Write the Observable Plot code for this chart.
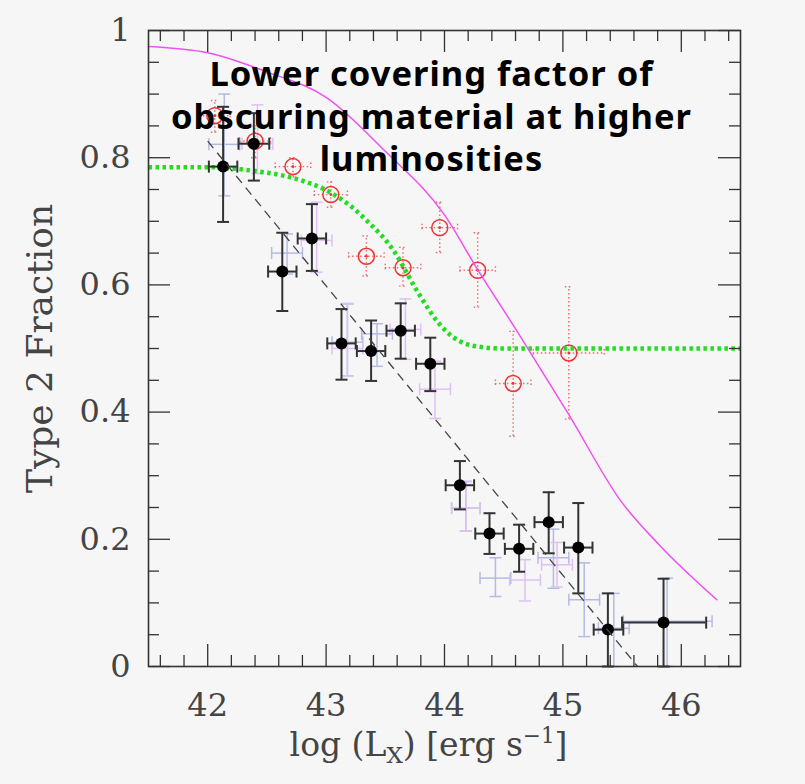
<!DOCTYPE html>
<html><head><meta charset="utf-8">
<script src="https://cdn.jsdelivr.net/npm/d3@7"></script>
<script src="https://cdn.jsdelivr.net/npm/@observablehq/plot@0.6"></script>
<style>html,body{margin:0;padding:0;background:#f6f6f6;}</style>
</head><body><div id="chart"></div>
<script>
// ---- Black points (filled dots) ----
const blackX   = [42.13, 42.39, 42.63, 42.88, 43.13, 43.38, 43.63, 43.88, 44.13, 44.38, 44.63, 44.88, 45.13, 45.38, 45.85];
const blackY   = [0.786, 0.822, 0.621, 0.673, 0.508, 0.496, 0.528, 0.476, 0.285, 0.209, 0.185, 0.227, 0.187, 0.058, 0.069];
const blackYlo = [0.699, 0.764, 0.559, 0.622, 0.451, 0.449, 0.484, 0.433, 0.247, 0.177, 0.149, 0.178, 0.115, 0.0, 0.0];
const blackYhi = [0.880, 0.870, 0.682, 0.727, 0.562, 0.544, 0.571, 0.517, 0.323, 0.241, 0.223, 0.274, 0.257, 0.115, 0.138];
const blackXlo = [42.01, 42.26, 42.51, 42.76, 43.01, 43.26, 43.51, 43.76, 44.01, 44.26, 44.51, 44.76, 45.01, 45.26, 45.50];
const blackXhi = [42.25, 42.52, 42.75, 43.00, 43.25, 43.50, 43.75, 44.00, 44.25, 44.50, 44.75, 45.00, 45.25, 45.51, 46.21];

// ---- Faint blue crosses ----
const blueX   = [42.14, 42.67, 43.18, 43.43, 44.18, 44.43, 44.92, 45.18, 45.43, 45.88];
const blueY   = [0.821, 0.650, 0.510, 0.523, 0.249, 0.139, 0.171, 0.105, 0.060, 0.071];
const blueYlo = [0.740, 0.617, 0.457, 0.472, 0.213, 0.110, 0.123, 0.047, 0.000, 0.000];
const blueYhi = [0.900, 0.680, 0.570, 0.539, 0.291, 0.171, 0.216, 0.163, 0.115, 0.139];
const blueXlo = [42.01, 42.54, 43.05, 43.30, 44.06, 44.30, 44.79, 45.05, 45.30, 45.51];
const blueXhi = [42.27, 42.80, 43.31, 43.56, 44.30, 44.56, 45.05, 45.31, 45.56, 46.26];

// ---- Faint violet crosses ----
const violetX   = [42.42, 42.92, 43.18, 43.67, 43.92, 44.18, 44.68, 44.95];
const violetY   = [0.822, 0.670, 0.500, 0.530, 0.436, 0.249, 0.136, 0.160];
const violetYlo = [0.775, 0.620, 0.457, 0.483, 0.390, 0.213, 0.103, 0.125];
const violetYhi = [0.883, 0.730, 0.571, 0.578, 0.480, 0.291, 0.168, 0.195];
const violetXlo = [42.29, 42.79, 43.05, 43.54, 43.79, 44.06, 44.55, 44.82];
const violetXhi = [42.55, 43.05, 43.31, 43.80, 44.05, 44.30, 44.81, 45.08];

// ---- Red open circles (dotted error bars) ----
const redX   = [42.06, 42.40, 42.72, 43.04, 43.34, 43.65, 43.96, 44.28, 44.58, 45.05];
const redY   = [0.866, 0.826, 0.786, 0.742, 0.645, 0.627, 0.690, 0.623, 0.445, 0.493];
const redYlo = [0.840, 0.800, 0.770, 0.722, 0.614, 0.598, 0.651, 0.565, 0.362, 0.389];
const redYhi = [0.890, 0.850, 0.800, 0.762, 0.677, 0.659, 0.730, 0.682, 0.527, 0.597];
const redXlo = [41.93, 42.27, 42.57, 42.90, 43.19, 43.50, 43.81, 44.13, 44.43, 44.75];
const redXhi = [42.19, 42.53, 42.87, 43.18, 43.49, 43.80, 44.11, 44.43, 44.73, 45.35];

// ---- Curves ----
const greenX = [41.5, 42.0, 42.36, 42.76, 43.01, 43.2, 43.35, 43.57, 43.77, 43.95, 44.08, 44.25, 44.5, 46.5];
const greenY = [0.785, 0.785, 0.780, 0.766, 0.748, 0.725, 0.700, 0.654, 0.590, 0.540, 0.517, 0.504, 0.500, 0.500];
const magentaX = [41.5, 42.0, 42.5, 43.0, 43.5, 44.0, 44.28, 44.61, 45.05, 45.49, 45.82, 46.3];
const magentaY = [0.975, 0.965, 0.935, 0.895, 0.810, 0.710, 0.624, 0.528, 0.396, 0.260, 0.190, 0.105];
const dashX = [42.0, 45.63];
const dashY = [0.826, 0.0];

// ---- Ticks and text ----
const xMajorTicks = [42, 43, 44, 45, 46];
const xMinorTicks = [41.6, 41.8, 42.2, 42.4, 42.6, 42.8, 43.2, 43.4, 43.6, 43.8, 44.2, 44.4, 44.6, 44.8, 45.2, 45.4, 45.6, 45.8, 46.2, 46.4];
const yMajorTicks = [0, 0.2, 0.4, 0.6, 0.8, 1];
const yMinorTicks = [0.05, 0.1, 0.15, 0.25, 0.3, 0.35, 0.45, 0.5, 0.55, 0.65, 0.7, 0.75, 0.85, 0.9, 0.95];
const yLabel = "Type 2 Fraction";
const xLabelParts = ["log (L", "X", ") [erg s", "\u22121", "]"];
const annotationLines = ["Lower covering factor of", "obscuring material at higher", "luminosities"];

const W = 805, H = 784, mL = 148, mR = 65, mT = 30, mB = 118;
const plotW = W - mL - mR, plotH = H - mT - mB;
const serif = "'DejaVu Serif', 'Liberation Serif', serif";

function rows(xs, ys, ylo, yhi, xlo, xhi) {
  return xs.map((x, i) => ({x, y: ys[i], ylo: ylo[i], yhi: yhi[i], xlo: xlo[i], xhi: xhi[i]}));
}
const black = rows(blackX, blackY, blackYlo, blackYhi, blackXlo, blackXhi);
const blue = rows(blueX, blueY, blueYlo, blueYhi, blueXlo, blueXhi);
const violet = rows(violetX, violetY, violetYlo, violetYhi, violetXlo, violetXhi);
const red = rows(redX, redY, redYlo, redYhi, redXlo, redXhi);
const green = greenX.map((x, i) => ({x, y: greenY[i]}));
const magenta = magentaX.map((x, i) => ({x, y: magentaY[i]}));
const dashed = dashX.map((x, i) => ({x, y: dashY[i]}));

const capH = {draw(ctx, size) { const h = Math.sqrt(size / Math.PI); ctx.moveTo(-h, 0); ctx.lineTo(h, 0); }};
const capV = {draw(ctx, size) { const h = Math.sqrt(size / Math.PI); ctx.moveTo(0, -h); ctx.lineTo(0, h); }};

function errorMarks(data, {stroke, strokeWidth = 1.5, dash, cap = 6}) {
  const c = {stroke, strokeWidth, strokeDasharray: dash, strokeLinecap: "butt"};
  return [
    Plot.ruleX(data, {x: "x", y1: "ylo", y2: "yhi", ...c}),
    Plot.ruleY(data, {y: "y", x1: "xlo", x2: "xhi", ...c}),
    Plot.dot(data, {x: "x", y: "ylo", symbol: capH, r: cap, fill: "none", ...c}),
    Plot.dot(data, {x: "x", y: "yhi", symbol: capH, r: cap, fill: "none", ...c}),
    Plot.dot(data, {x: "xlo", y: "y", symbol: capV, r: cap, fill: "none", ...c}),
    Plot.dot(data, {x: "xhi", y: "y", symbol: capV, r: cap, fill: "none", ...c})
  ];
}

const tickStroke = {stroke: "#333", strokeWidth: 1.3};
const xLabelPlaceholder = xLabelParts.join("");
const annotationText = annotationLines.join("\n");

const svg = Plot.plot({
  width: W, height: H,
  marginLeft: mL, marginRight: mR, marginTop: mT, marginBottom: mB,
  x: {domain: [41.5, 46.5]},
  y: {domain: [0, 1]},
  style: {background: "#f6f6f6", color: "#444", overflow: "visible"},
  marks: [
    ...errorMarks(blue, {stroke: "#b4bbe2", strokeWidth: 1.5}),
    ...errorMarks(violet, {stroke: "#dfc0f5", strokeWidth: 1.5}),
    ...errorMarks(red, {stroke: "#f06a6a", strokeWidth: 1.4, dash: "1.5,2.5", cap: 4}),
    Plot.dot(red, {x: "x", y: "y", r: 8, stroke: "#ee3333", strokeWidth: 1.5, fill: "none"}),
    Plot.dot(red, {x: "x", y: "y", r: 1.4, fill: "#ee3333"}),
    Plot.line(green, {x: "x", y: "y", curve: "monotone-x", stroke: "#22dd22", strokeWidth: 4.5, strokeDasharray: "3.5,3.5", strokeLinecap: "butt"}),
    ...errorMarks(black, {stroke: "#333", strokeWidth: 2}),
    Plot.dot(black, {x: "x", y: "y", r: 6, fill: "black"}),
    Plot.line(dashed, {x: "x", y: "y", stroke: "#444", strokeWidth: 1.3, strokeDasharray: "9,6", strokeLinecap: "butt"}),
    Plot.line(magenta, {x: "x", y: "y", curve: "monotone-x", stroke: "#f050f0", strokeWidth: 1.5}),
    Plot.frame({stroke: "#333", strokeWidth: 1.6}),
    Plot.ruleX(xMajorTicks, {x: d => d, insetTop: plotH - 22, ...tickStroke}),
    Plot.ruleX(xMajorTicks, {x: d => d, insetBottom: plotH - 22, ...tickStroke}),
    Plot.ruleX(xMinorTicks, {x: d => d, insetTop: plotH - 11, ...tickStroke}),
    Plot.ruleX(xMinorTicks, {x: d => d, insetBottom: plotH - 11, ...tickStroke}),
    Plot.ruleY(yMajorTicks, {y: d => d, insetRight: plotW - 22, ...tickStroke}),
    Plot.ruleY(yMajorTicks, {y: d => d, insetLeft: plotW - 22, ...tickStroke}),
    Plot.ruleY(yMinorTicks, {y: d => d, insetRight: plotW - 11, ...tickStroke}),
    Plot.ruleY(yMinorTicks, {y: d => d, insetLeft: plotW - 11, ...tickStroke}),
    Plot.axisX(xMajorTicks, {anchor: "bottom", tickSize: 0, tickPadding: 27, tickFormat: d => String(d), fontSize: 32, fontFamily: serif, label: null}),
    Plot.axisY(yMajorTicks, {anchor: "left", tickSize: 0, tickPadding: 18, tickFormat: d => String(d), fontSize: 32, fontFamily: serif, label: null}),
    Plot.text([yLabel], {text: d => d, frameAnchor: "left", rotate: -90, dx: -108, textAnchor: "middle", lineAnchor: "middle", fontSize: 36, fontFamily: serif, fill: "#444"}),
    Plot.text([xLabelPlaceholder], {text: d => d, frameAnchor: "bottom", dx: -16, dy: 79, textAnchor: "middle", lineAnchor: "middle", fontSize: 33, fontFamily: serif, fill: "#444"}),
    Plot.text([annotationText], {text: d => d, frameAnchor: "top", dx: -13, dy: 25, lineAnchor: "top", textAnchor: "middle", lineHeight: 1.24, fontSize: 34.5, fontWeight: "bold", fontFamily: "'Comic Sans MS', 'Noto Sans', sans-serif", fill: "black"})
  ]
});

// Build the x label with sub/superscripts
d3.select(svg).selectAll("text").filter(function() { return this.textContent === xLabelPlaceholder; }).each(function() {
  const t = d3.select(this);
  t.text(null);
  t.append("tspan").text(xLabelParts[0]);
  t.append("tspan").attr("font-size", "70%").attr("dy", 7).text(xLabelParts[1]);
  t.append("tspan").attr("dy", -7).text(xLabelParts[2]);
  t.append("tspan").attr("font-size", "65%").attr("dy", -13).text(xLabelParts[3]);
  t.append("tspan").attr("dy", 13).text(xLabelParts[4]);
});
// Widen the annotation slightly, like the reference lettering
d3.select(svg).selectAll("text").filter(function() { return this.textContent.replace(/\s/g, "") === annotationText.replace(/\s/g, ""); })
  .attr("letter-spacing", "1px");

document.getElementById("chart").appendChild(svg);
</script>
</body></html>
